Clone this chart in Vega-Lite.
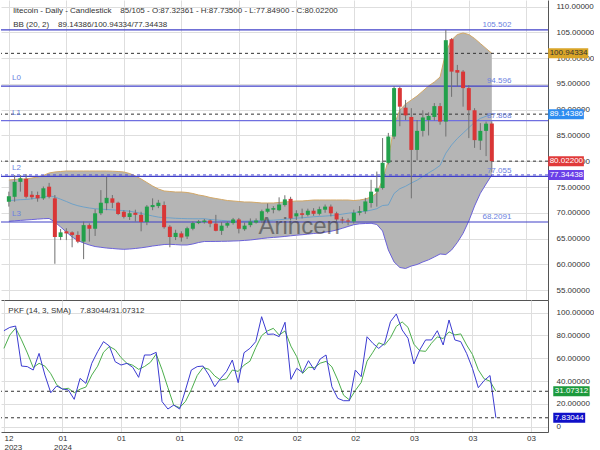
{
"$schema": "https://vega.github.io/schema/vega-lite/v6.json",
"padding": 0,
"background": "#ffffff",
"spacing": 0,
"config": {
  "view": {"stroke": null},
  "font": "Liberation Sans",
  "axis": {"labelFont": "Liberation Sans", "labelFontSize": 8, "labelColor": "#333333", "gridColor": "#e0e0e0", "gridWidth": 1, "domainColor": "#555555", "domainWidth": 1, "ticks": false, "tickSize": 0, "labelOverlap": false},
  "text": {"font": "Liberation Sans", "fontSize": 8}
},
"datasets": {
  "c": [
{"i":0,"o":72.15,"h":74.1,"l":71.2,"c":73.2,"u":76.36,"lo":68.35,"m":72.36,"k":84.2,"d":68.7},
{"i":1,"o":73.1,"h":77.3,"l":72.15,"c":76.0,"u":76.46,"lo":68.44,"m":72.45,"k":87.1,"d":80.4},
{"i":2,"o":76.0,"h":77.3,"l":74.1,"c":76.7,"u":76.56,"lo":68.52,"m":72.54,"k":88.3,"d":86.5},
{"i":3,"o":76.6,"h":77.5,"l":72.8,"c":73.1,"u":76.56,"lo":68.6,"m":72.58,"k":53.2,"d":76.2},
{"i":4,"o":73.5,"h":74.2,"l":72.6,"c":73.0,"u":76.75,"lo":68.68,"m":72.72,"k":52.7,"d":64.7},
{"i":5,"o":73.45,"h":74.1,"l":72.15,"c":72.8,"u":76.95,"lo":68.77,"m":72.86,"k":49.7,"d":51.9},
{"i":6,"o":72.8,"h":75.1,"l":72.5,"c":74.75,"u":77.24,"lo":68.85,"m":73.05,"k":64.3,"d":55.6},
{"i":7,"o":75.06,"h":75.8,"l":72.8,"c":73.1,"u":77.72,"lo":68.89,"m":73.31,"k":45.3,"d":53.1},
{"i":8,"o":72.8,"h":73.45,"l":60.1,"c":65.3,"u":77.92,"lo":68.21,"m":73.07,"k":29.8,"d":46.5},
{"i":9,"o":65.3,"h":66.85,"l":64.7,"c":66.2,"u":78.01,"lo":67.24,"m":72.63,"k":35.7,"d":36.9},
{"i":10,"o":66.4,"h":67.0,"l":64.7,"c":66.0,"u":78.11,"lo":66.27,"m":72.19,"k":33.1,"d":32.9},
{"i":11,"o":66.2,"h":66.4,"l":63.3,"c":65.7,"u":78.11,"lo":65.3,"m":71.71,"k":32.2,"d":33.7},
{"i":12,"o":65.7,"h":66.4,"l":64.1,"c":64.4,"u":78.11,"lo":64.62,"m":71.37,"k":24.0,"d":29.8},
{"i":13,"o":64.4,"h":68.3,"l":61.0,"c":67.6,"u":78.11,"lo":64.13,"m":71.12,"k":42.4,"d":32.9},
{"i":14,"o":67.6,"h":67.95,"l":64.4,"c":66.9,"u":78.11,"lo":63.75,"m":70.93,"k":38.0,"d":34.8},
{"i":15,"o":66.9,"h":70.7,"l":65.5,"c":69.9,"u":78.11,"lo":63.45,"m":70.78,"k":55.6,"d":45.3},
{"i":16,"o":69.9,"h":74.4,"l":69.55,"c":71.95,"u":78.11,"lo":63.3,"m":70.71,"k":65.8,"d":53.1},
{"i":17,"o":71.85,"h":77.0,"l":70.5,"c":72.9,"u":78.11,"lo":63.16,"m":70.64,"k":74.6,"d":65.3},
{"i":18,"o":72.8,"h":73.45,"l":70.9,"c":71.95,"u":78.07,"lo":63.07,"m":70.57,"k":70.8,"d":70.4},
{"i":19,"o":71.95,"h":72.15,"l":69.55,"c":69.76,"u":78.01,"lo":62.97,"m":70.49,"k":57.0,"d":67.5},
{"i":20,"o":70.2,"h":70.5,"l":68.9,"c":69.2,"u":77.92,"lo":62.91,"m":70.42,"k":54.1,"d":60.6},
{"i":21,"o":69.2,"h":70.5,"l":68.6,"c":69.9,"u":77.62,"lo":62.97,"m":70.3,"k":55.6,"d":55.6},
{"i":22,"o":70.0,"h":70.6,"l":68.3,"c":69.6,"u":77.14,"lo":63.07,"m":70.11,"k":52.1,"d":53.9},
{"i":23,"o":69.6,"h":70.2,"l":66.4,"c":68.2,"u":76.56,"lo":63.2,"m":69.88,"k":43.3,"d":50.3},
{"i":24,"o":68.2,"h":71.5,"l":67.6,"c":71.2,"u":75.88,"lo":63.36,"m":69.62,"k":62.9,"d":52.8},
{"i":25,"o":71.1,"h":72.8,"l":70.5,"c":71.5,"u":75.2,"lo":63.55,"m":69.38,"k":62.9,"d":56.4},
{"i":26,"o":71.3,"h":72.5,"l":70.9,"c":71.95,"u":74.62,"lo":63.69,"m":69.16,"k":65.2,"d":63.7},
{"i":27,"o":71.5,"h":72.2,"l":66.9,"c":67.2,"u":74.23,"lo":63.84,"m":69.04,"k":22.0,"d":50.0},
{"i":28,"o":67.3,"h":67.6,"l":63.3,"c":65.3,"u":74.13,"lo":63.88,"m":69.01,"k":15.5,"d":34.2},
{"i":29,"o":65.3,"h":66.7,"l":64.7,"c":66.1,"u":74.03,"lo":63.82,"m":68.93,"k":19.0,"d":18.8},
{"i":30,"o":66.0,"h":66.4,"l":64.4,"c":65.2,"u":74.03,"lo":63.75,"m":68.89,"k":15.5,"d":16.7},
{"i":31,"o":65.4,"h":67.3,"l":64.9,"c":67.0,"u":73.94,"lo":63.75,"m":68.85,"k":32.2,"d":22.2},
{"i":32,"o":66.9,"h":68.3,"l":66.6,"c":68.0,"u":73.74,"lo":63.94,"m":68.84,"k":49.7,"d":32.5},
{"i":33,"o":68.0,"h":68.6,"l":67.8,"c":68.3,"u":73.45,"lo":64.23,"m":68.84,"k":52.7,"d":44.9},
{"i":34,"o":68.2,"h":68.8,"l":67.9,"c":68.5,"u":73.26,"lo":64.43,"m":68.85,"k":53.2,"d":51.9},
{"i":35,"o":68.5,"h":68.7,"l":67.2,"c":67.9,"u":72.97,"lo":64.43,"m":68.7,"k":45.3,"d":50.4},
{"i":36,"o":67.9,"h":69.6,"l":66.4,"c":66.5,"u":72.77,"lo":64.44,"m":68.61,"k":35.1,"d":44.5},
{"i":37,"o":66.5,"h":68.2,"l":65.7,"c":67.5,"u":72.58,"lo":64.46,"m":68.52,"k":42.4,"d":40.9},
{"i":38,"o":67.5,"h":68.3,"l":67.1,"c":68.0,"u":72.38,"lo":64.48,"m":68.43,"k":48.3,"d":41.9},
{"i":39,"o":68.0,"h":69.0,"l":67.7,"c":68.7,"u":72.29,"lo":64.52,"m":68.41,"k":58.5,"d":49.7},
{"i":40,"o":68.7,"h":69.0,"l":66.0,"c":66.9,"u":72.19,"lo":64.56,"m":68.38,"k":38.6,"d":48.5},
{"i":41,"o":66.8,"h":68.1,"l":66.5,"c":67.5,"u":72.09,"lo":64.64,"m":68.37,"k":64.9,"d":54.0},
{"i":42,"o":67.6,"h":68.9,"l":67.2,"c":68.3,"u":72.09,"lo":64.72,"m":68.41,"k":68.7,"d":57.4},
{"i":43,"o":68.1,"h":68.9,"l":67.9,"c":68.5,"u":72.0,"lo":64.85,"m":68.43,"k":74.6,"d":69.4},
{"i":44,"o":68.5,"h":70.6,"l":68.0,"c":70.3,"u":71.9,"lo":65.01,"m":68.46,"k":96.5,"d":79.9},
{"i":45,"o":70.2,"h":71.8,"l":69.9,"c":70.8,"u":71.9,"lo":65.12,"m":68.51,"k":81.0,"d":84.0},
{"i":46,"o":70.6,"h":71.3,"l":69.9,"c":70.9,"u":71.9,"lo":65.22,"m":68.56,"k":81.3,"d":86.3},
{"i":47,"o":70.5,"h":73.0,"l":70.3,"c":71.6,"u":72.0,"lo":65.3,"m":68.65,"k":79.0,"d":80.4},
{"i":48,"o":71.5,"h":73.4,"l":71.2,"c":72.6,"u":72.09,"lo":65.41,"m":68.75,"k":91.6,"d":84.0},
{"i":49,"o":72.7,"h":73.1,"l":68.5,"c":68.9,"u":72.19,"lo":65.53,"m":68.86,"k":41.5,"d":70.7},
{"i":50,"o":69.3,"h":70.5,"l":68.6,"c":69.9,"u":72.29,"lo":65.65,"m":68.97,"k":51.2,"d":61.4},
{"i":51,"o":69.9,"h":70.8,"l":68.9,"c":69.6,"u":72.29,"lo":65.74,"m":69.02,"k":47.4,"d":46.7},
{"i":52,"o":69.6,"h":70.8,"l":69.3,"c":70.4,"u":72.38,"lo":65.86,"m":69.12,"k":57.9,"d":52.2},
{"i":53,"o":70.4,"h":70.9,"l":69.4,"c":69.8,"u":72.48,"lo":65.98,"m":69.23,"k":49.7,"d":51.7},
{"i":54,"o":69.8,"h":71.2,"l":69.5,"c":70.7,"u":72.48,"lo":66.09,"m":69.29,"k":59.4,"d":55.7},
{"i":55,"o":70.6,"h":71.6,"l":70.0,"c":71.2,"u":72.48,"lo":66.23,"m":69.36,"k":62.9,"d":57.3},
{"i":56,"o":71.2,"h":71.6,"l":69.3,"c":69.9,"u":72.48,"lo":66.4,"m":69.44,"k":35.1,"d":52.5},
{"i":57,"o":69.9,"h":70.2,"l":68.3,"c":68.7,"u":72.48,"lo":66.66,"m":69.57,"k":24.9,"d":41.0},
{"i":58,"o":68.7,"h":69.2,"l":67.9,"c":68.5,"u":72.48,"lo":66.99,"m":69.74,"k":22.8,"d":27.6},
{"i":59,"o":68.5,"h":68.9,"l":67.6,"c":68.3,"u":72.48,"lo":67.34,"m":69.91,"k":22.8,"d":23.5},
{"i":60,"o":68.3,"h":70.6,"l":67.9,"c":70.0,"u":72.38,"lo":67.69,"m":70.04,"k":49.7,"d":31.8},
{"i":61,"o":70.0,"h":71.3,"l":69.5,"c":70.3,"u":72.48,"lo":67.86,"m":70.17,"k":43.9,"d":38.8},
{"i":62,"o":70.3,"h":72.9,"l":69.8,"c":72.2,"u":72.67,"lo":67.92,"m":70.3,"k":78.9,"d":57.5},
{"i":63,"o":71.9,"h":76.4,"l":71.0,"c":74.1,"u":73.06,"lo":67.96,"m":70.51,"k":73.1,"d":65.3},
{"i":64,"o":74.1,"h":78.0,"l":71.2,"c":74.75,"u":73.84,"lo":67.73,"m":70.79,"k":68.7,"d":73.6},
{"i":65,"o":74.8,"h":84.5,"l":74.5,"c":79.7,"u":76.36,"lo":66.46,"m":71.41,"k":73.1,"d":71.6},
{"i":66,"o":79.7,"h":85.5,"l":79.4,"c":84.8,"u":80.24,"lo":62.78,"m":71.51,"k":92.1,"d":78.0},
{"i":67,"o":84.8,"h":94.6,"l":84.3,"c":94.2,"u":87.04,"lo":60.45,"m":73.75,"k":98.9,"d":88.0},
{"i":68,"o":94.2,"h":94.5,"l":86.8,"c":90.6,"u":89.95,"lo":59.38,"m":74.67,"k":84.8,"d":91.9},
{"i":69,"o":90.4,"h":91.9,"l":88.0,"c":88.9,"u":91.11,"lo":59.19,"m":75.15,"k":77.5,"d":87.1},
{"i":70,"o":88.6,"h":90.3,"l":72.8,"c":82.2,"u":91.89,"lo":59.67,"m":75.78,"k":55.0,"d":72.4},
{"i":71,"o":82.2,"h":88.0,"l":80.2,"c":85.9,"u":92.67,"lo":59.96,"m":76.32,"k":67.3,"d":66.6},
{"i":72,"o":85.9,"h":89.9,"l":84.8,"c":88.5,"u":93.64,"lo":60.45,"m":77.05,"k":76.1,"d":66.1},
{"i":73,"o":88.0,"h":89.5,"l":85.0,"c":88.8,"u":94.61,"lo":60.87,"m":77.74,"k":76.1,"d":73.2},
{"i":74,"o":88.6,"h":91.3,"l":87.9,"c":90.7,"u":95.38,"lo":61.42,"m":78.4,"k":84.2,"d":78.8},
{"i":75,"o":90.7,"h":91.3,"l":87.1,"c":87.7,"u":96.35,"lo":62.0,"m":79.18,"k":71.7,"d":77.3},
{"i":76,"o":87.7,"h":105.5,"l":84.8,"c":103.5,"u":101.21,"lo":61.9,"m":81.56,"k":93.6,"d":83.2},
{"i":77,"o":103.7,"h":103.9,"l":92.5,"c":97.4,"u":103.54,"lo":62.78,"m":83.16,"k":76.1,"d":80.5},
{"i":78,"o":97.7,"h":98.7,"l":94.5,"c":97.2,"u":104.6,"lo":64.23,"m":84.42,"k":74.6,"d":81.4},
{"i":79,"o":97.4,"h":97.7,"l":90.6,"c":94.2,"u":104.9,"lo":66.02,"m":85.46,"k":64.3,"d":71.7},
{"i":80,"o":94.2,"h":94.8,"l":84.5,"c":89.9,"u":104.6,"lo":68.41,"m":86.51,"k":51.2,"d":63.4},
{"i":81,"o":89.9,"h":90.3,"l":82.6,"c":84.1,"u":103.83,"lo":71.32,"m":87.58,"k":34.2,"d":49.9},
{"i":82,"o":84.0,"h":87.4,"l":82.2,"c":85.9,"u":102.86,"lo":73.78,"m":88.32,"k":40.5,"d":42.0},
{"i":83,"o":85.9,"h":87.7,"l":81.0,"c":87.3,"u":101.89,"lo":75.59,"m":88.74,"k":44.9,"d":39.9},
{"i":84,"o":87.32361,"h":87.735,"l":77.849,"c":80.022,"u":100.94334,"lo":77.34438,"m":89.14386,"k":7.83044,"d":31.07312}
  ],
  "lv": [
    {"v":105.502,"name":"","lab":"105.502"},
    {"v":94.596,"name":"L0","lab":"94.596"},
    {"v":87.868,"name":"L1","lab":"87.868"},
    {"v":77.055,"name":"L2","lab":"77.055"},
    {"v":68.2091,"name":"L3","lab":"68.2091"}
  ],
  "bt": [
    {"v":100.94334,"lab":"100.94334","s":"BB upper"},
    {"v":89.14386,"lab":"89.14386","s":"BB mid"},
    {"v":80.022,"lab":"80.02200","s":"close"},
    {"v":77.34438,"lab":"77.34438","s":"BB lower"}
  ],
  "bb": [
    {"v":31.07312,"lab":"31.07312","s":"D"},
    {"v":7.83044,"lab":"7.83044","s":"K"}
  ]
},
"vconcat": [
 {
  "width": 547, "height": 300,
  "data": {"name": "c"},
  "resolve": {"axis": {"x": "independent", "y": "independent"}},
  "layer": [
   {"mark": {"type": "area", "color": "#b5b5b5"},
    "encoding": {
      "x": {"field": "i", "type": "quantitative", "scale": {"domain": [-0.5, 92.9], "nice": false, "zero": false},
            "axis": {"orient": "bottom", "values": [0,10,20,30,40,50,60,70,80,90], "labels": false, "domain": true, "grid": true, "gridColor": "#dedede", "title": null, "labelOverlap": false}},
      "y": {"field": "lo", "type": "quantitative", "scale": {"domain": [53.07, 111.3], "nice": false, "zero": false},
            "axis": {"orient": "right", "values": [55,60,65,70,75,80,85,90,95,100,105,110], "format": ".5f", "labelPadding": 8, "grid": true, "gridColor": "#dedede", "domain": true, "title": null, "labelOverlap": false}},
      "y2": {"field": "u"}
    }},
   {"mark": {"type": "line", "color": "#d2a766", "strokeWidth": 1},
    "encoding": {
      "x": {"field": "i", "type": "quantitative", "scale": {"domain": [-0.5, 92.9], "nice": false, "zero": false}, "axis": null},
      "y": {"field": "u", "type": "quantitative", "scale": {"domain": [53.07, 111.3], "nice": false, "zero": false}, "axis": null}
    }},
   {"mark": {"type": "line", "color": "#6b62d9", "strokeWidth": 1},
    "encoding": {
      "x": {"field": "i", "type": "quantitative", "scale": {"domain": [-0.5, 92.9], "nice": false, "zero": false}, "axis": null},
      "y": {"field": "lo", "type": "quantitative", "scale": {"domain": [53.07, 111.3], "nice": false, "zero": false}, "axis": null}
    }},
   {"mark": {"type": "line", "color": "#5d9ccc", "strokeWidth": 0.8},
    "encoding": {
      "x": {"field": "i", "type": "quantitative", "scale": {"domain": [-0.5, 92.9], "nice": false, "zero": false}, "axis": null},
      "y": {"field": "m", "type": "quantitative", "scale": {"domain": [53.07, 111.3], "nice": false, "zero": false}, "axis": null}
    }},
   {"data": {"name": "lv"},
    "mark": {"type": "rule", "strokeWidth": 1.2},
    "encoding": {
      "y": {"field": "v", "type": "quantitative", "scale": {"domain": [53.07, 111.3], "nice": false, "zero": false}, "axis": null},
      "color": {"condition": {"test": "datum.name == 'L1'", "value": "#6f6fe0"}, "value": "#4040c8"}
    }},
   {"data": {"name": "bt"},
    "mark": {"type": "rule", "strokeWidth": 1, "strokeDash": [3, 3]},
    "encoding": {
      "y": {"field": "v", "type": "quantitative", "scale": {"domain": [53.07, 111.3], "nice": false, "zero": false}, "axis": null},
      "color": {"condition": {"test": "datum.s == 'BB lower'", "value": "#4b4bd6"}, "value": "#333333"}
    }},
   {"mark": {"type": "rule", "color": "#707070", "strokeWidth": 1},
    "encoding": {
      "x": {"field": "i", "type": "quantitative", "scale": {"domain": [-0.5, 92.9], "nice": false, "zero": false}, "axis": null},
      "y": {"field": "l", "type": "quantitative", "scale": {"domain": [53.07, 111.3], "nice": false, "zero": false}, "axis": null},
      "y2": {"field": "h"}
    }},
   {"mark": {"type": "bar", "width": 4},
    "encoding": {
      "x": {"field": "i", "type": "quantitative", "scale": {"domain": [-0.5, 92.9], "nice": false, "zero": false}, "axis": null},
      "y": {"field": "o", "type": "quantitative", "scale": {"domain": [53.07, 111.3], "nice": false, "zero": false}, "axis": null},
      "y2": {"field": "c"},
      "color": {"condition": {"test": "datum.c >= datum.o", "value": "#22a04b"}, "value": "#d93636"}
    }},
   {"data": {"name": "lv"},
    "transform": [{"filter": "datum.name != ''"}],
    "mark": {"type": "text", "align": "left", "baseline": "middle", "dy": -8, "color": "#6a7fe0", "fontSize": 8},
    "encoding": {
      "x": {"datum": 0.55, "type": "quantitative", "scale": {"domain": [-0.5, 92.9], "nice": false, "zero": false}, "axis": null},
      "y": {"field": "v", "type": "quantitative", "scale": {"domain": [53.07, 111.3], "nice": false, "zero": false}, "axis": null},
      "text": {"field": "name"}
    }},
   {"data": {"name": "lv"},
    "mark": {"type": "text", "align": "right", "baseline": "middle", "dy": -5, "color": "#6a7fe0", "fontSize": 8},
    "encoding": {
      "x": {"datum": 87.4, "type": "quantitative", "scale": {"domain": [-0.5, 92.9], "nice": false, "zero": false}, "axis": null},
      "y": {"field": "v", "type": "quantitative", "scale": {"domain": [53.07, 111.3], "nice": false, "zero": false}, "axis": null},
      "text": {"field": "lab"}
    }},
   {"data": {"values": [{"t": "Arincen"}]},
    "mark": {"type": "text", "align": "center", "baseline": "middle", "fontSize": 24, "color": "#333333", "opacity": 0.55},
    "encoding": {
      "x": {"datum": 50.5, "type": "quantitative", "scale": {"domain": [-0.5, 92.9], "nice": false, "zero": false}, "axis": null},
      "y": {"datum": 67.24, "type": "quantitative", "scale": {"domain": [53.07, 111.3], "nice": false, "zero": false}, "axis": null},
      "text": {"field": "t"}
    }},
   {"data": {"values": [{"t": "litecoin - Daily - Candlestick \u00a0\u00a0\u00a085/105 - O:87.32361 - H:87.73500 - L:77.84900 - C:80.02200"}]},
    "mark": {"type": "text", "align": "left", "baseline": "middle", "fontSize": 8, "color": "#333333"},
    "encoding": {
      "x": {"datum": 0.75, "type": "quantitative", "scale": {"domain": [-0.5, 92.9], "nice": false, "zero": false}, "axis": null},
      "y": {"datum": 109.22, "type": "quantitative", "scale": {"domain": [53.07, 111.3], "nice": false, "zero": false}, "axis": null},
      "text": {"field": "t"}
    }},
   {"data": {"values": [{"t": "BB (20, 2) \u00a0\u00a0\u00a089.14386/100.94334/77.34438"}]},
    "mark": {"type": "text", "align": "left", "baseline": "middle", "fontSize": 8, "color": "#333333"},
    "encoding": {
      "x": {"datum": 0.75, "type": "quantitative", "scale": {"domain": [-0.5, 92.9], "nice": false, "zero": false}, "axis": null},
      "y": {"datum": 106.45, "type": "quantitative", "scale": {"domain": [53.07, 111.3], "nice": false, "zero": false}, "axis": null},
      "text": {"field": "t"}
    }},
   {"data": {"name": "bt"},
    "transform": [
      {"calculate": "datum.v - 0.97", "as": "y1"},
      {"calculate": "datum.v + 0.97", "as": "y2"},
      {"calculate": "93.8", "as": "x1"},
      {"calculate": "93.93 + 0.76 * length(datum.lab)", "as": "x2"}
    ],
    "mark": {"type": "rect"},
    "encoding": {
      "x": {"field": "x1", "type": "quantitative", "scale": {"domain": [-0.5, 92.9], "nice": false, "zero": false}, "axis": null},
      "x2": {"field": "x2"},
      "y": {"field": "y1", "type": "quantitative", "scale": {"domain": [53.07, 111.3], "nice": false, "zero": false}, "axis": null},
      "y2": {"field": "y2"},
      "color": {"condition": [
        {"test": "datum.s == 'BB upper'", "value": "#d9a528"},
        {"test": "datum.s == 'BB mid'", "value": "#2d8cf0"},
        {"test": "datum.s == 'close'", "value": "#e03a3a"}
      ], "value": "#6a40e8"}
    }},
   {"data": {"name": "bt"},
    "mark": {"type": "text", "align": "left", "baseline": "middle", "fontSize": 8},
    "encoding": {
      "x": {"datum": 94.06, "type": "quantitative", "scale": {"domain": [-0.5, 92.9], "nice": false, "zero": false}, "axis": null},
      "y": {"field": "v", "type": "quantitative", "scale": {"domain": [53.07, 111.3], "nice": false, "zero": false}, "axis": null},
      "text": {"field": "lab"},
      "color": {"condition": {"test": "datum.s == 'BB upper'", "value": "#333333"}, "value": "#ffffff"}
    }}
  ]
 },
 {
  "width": 547, "height": 132,
  "data": {"name": "c"},
  "resolve": {"axis": {"x": "independent", "y": "independent"}},
  "layer": [
   {"mark": {"type": "line", "color": "#4cae4c", "strokeWidth": 1},
    "encoding": {
      "x": {"field": "i", "type": "quantitative", "scale": {"domain": [-0.5, 92.9], "nice": false, "zero": false},
            "axis": {"orient": "bottom", "values": [0,10,20,30,40,50,60,70,80,90], "labelFlush": 5, "labelPadding": 2, "labelLineHeight": 9, "labelBaseline": "top", "grid": true, "gridColor": "#dedede", "domain": true, "title": null, "labelOverlap": false,
                     "labelExpr": "datum.value == 0 ? ['12', '2023'] : datum.value == 10 ? ['01', '2024'] : datum.value <= 30 ? '01' : datum.value <= 60 ? '02' : '03'"}},
      "y": {"field": "d", "type": "quantitative", "scale": {"domain": [-4.65, 111.14], "nice": false, "zero": false},
            "axis": {"orient": "right", "values": [0,20,40,60,80,100], "labelExpr": "datum.value == 0 ? '0' : format(datum.value, '.5f')", "labelPadding": 8, "grid": true, "gridColor": "#dedede", "domain": true, "title": null, "labelOverlap": false}}
    }},
   {"mark": {"type": "line", "color": "#3b3bd1", "strokeWidth": 1},
    "encoding": {
      "x": {"field": "i", "type": "quantitative", "scale": {"domain": [-0.5, 92.9], "nice": false, "zero": false}, "axis": null},
      "y": {"field": "k", "type": "quantitative", "scale": {"domain": [-4.65, 111.14], "nice": false, "zero": false}, "axis": null}
    }},
   {"data": {"name": "bb"},
    "mark": {"type": "rule", "strokeWidth": 1, "strokeDash": [3, 3], "color": "#333333"},
    "encoding": {
      "y": {"field": "v", "type": "quantitative", "scale": {"domain": [-4.65, 111.14], "nice": false, "zero": false}, "axis": null}
    }},
   {"data": {"values": [{"t": "PKF (14, 3, SMA) \u00a0\u00a0\u00a07.83044/31.07312"}]},
    "mark": {"type": "text", "align": "left", "baseline": "middle", "fontSize": 8, "color": "#333333"},
    "encoding": {
      "x": {"datum": 0.75, "type": "quantitative", "scale": {"domain": [-0.5, 92.9], "nice": false, "zero": false}, "axis": null},
      "y": {"datum": 101.2, "type": "quantitative", "scale": {"domain": [-4.65, 111.14], "nice": false, "zero": false}, "axis": null},
      "text": {"field": "t"}
    }},
   {"data": {"name": "bb"},
    "transform": [
      {"calculate": "datum.v - 4.39", "as": "y1"},
      {"calculate": "datum.v + 4.39", "as": "y2"},
      {"calculate": "93.8", "as": "x1"},
      {"calculate": "93.93 + 0.76 * length(datum.lab)", "as": "x2"}
    ],
    "mark": {"type": "rect"},
    "encoding": {
      "x": {"field": "x1", "type": "quantitative", "scale": {"domain": [-0.5, 92.9], "nice": false, "zero": false}, "axis": null},
      "x2": {"field": "x2"},
      "y": {"field": "y1", "type": "quantitative", "scale": {"domain": [-4.65, 111.14], "nice": false, "zero": false}, "axis": null},
      "y2": {"field": "y2"},
      "color": {"condition": {"test": "datum.s == 'D'", "value": "#1c9a3c"}, "value": "#1010c8"}
    }},
   {"data": {"name": "bb"},
    "mark": {"type": "text", "align": "left", "baseline": "middle", "fontSize": 8, "color": "#ffffff"},
    "encoding": {
      "x": {"datum": 94.06, "type": "quantitative", "scale": {"domain": [-0.5, 92.9], "nice": false, "zero": false}, "axis": null},
      "y": {"field": "v", "type": "quantitative", "scale": {"domain": [-4.65, 111.14], "nice": false, "zero": false}, "axis": null},
      "text": {"field": "lab"}
    }}
  ]
 }
]
}
